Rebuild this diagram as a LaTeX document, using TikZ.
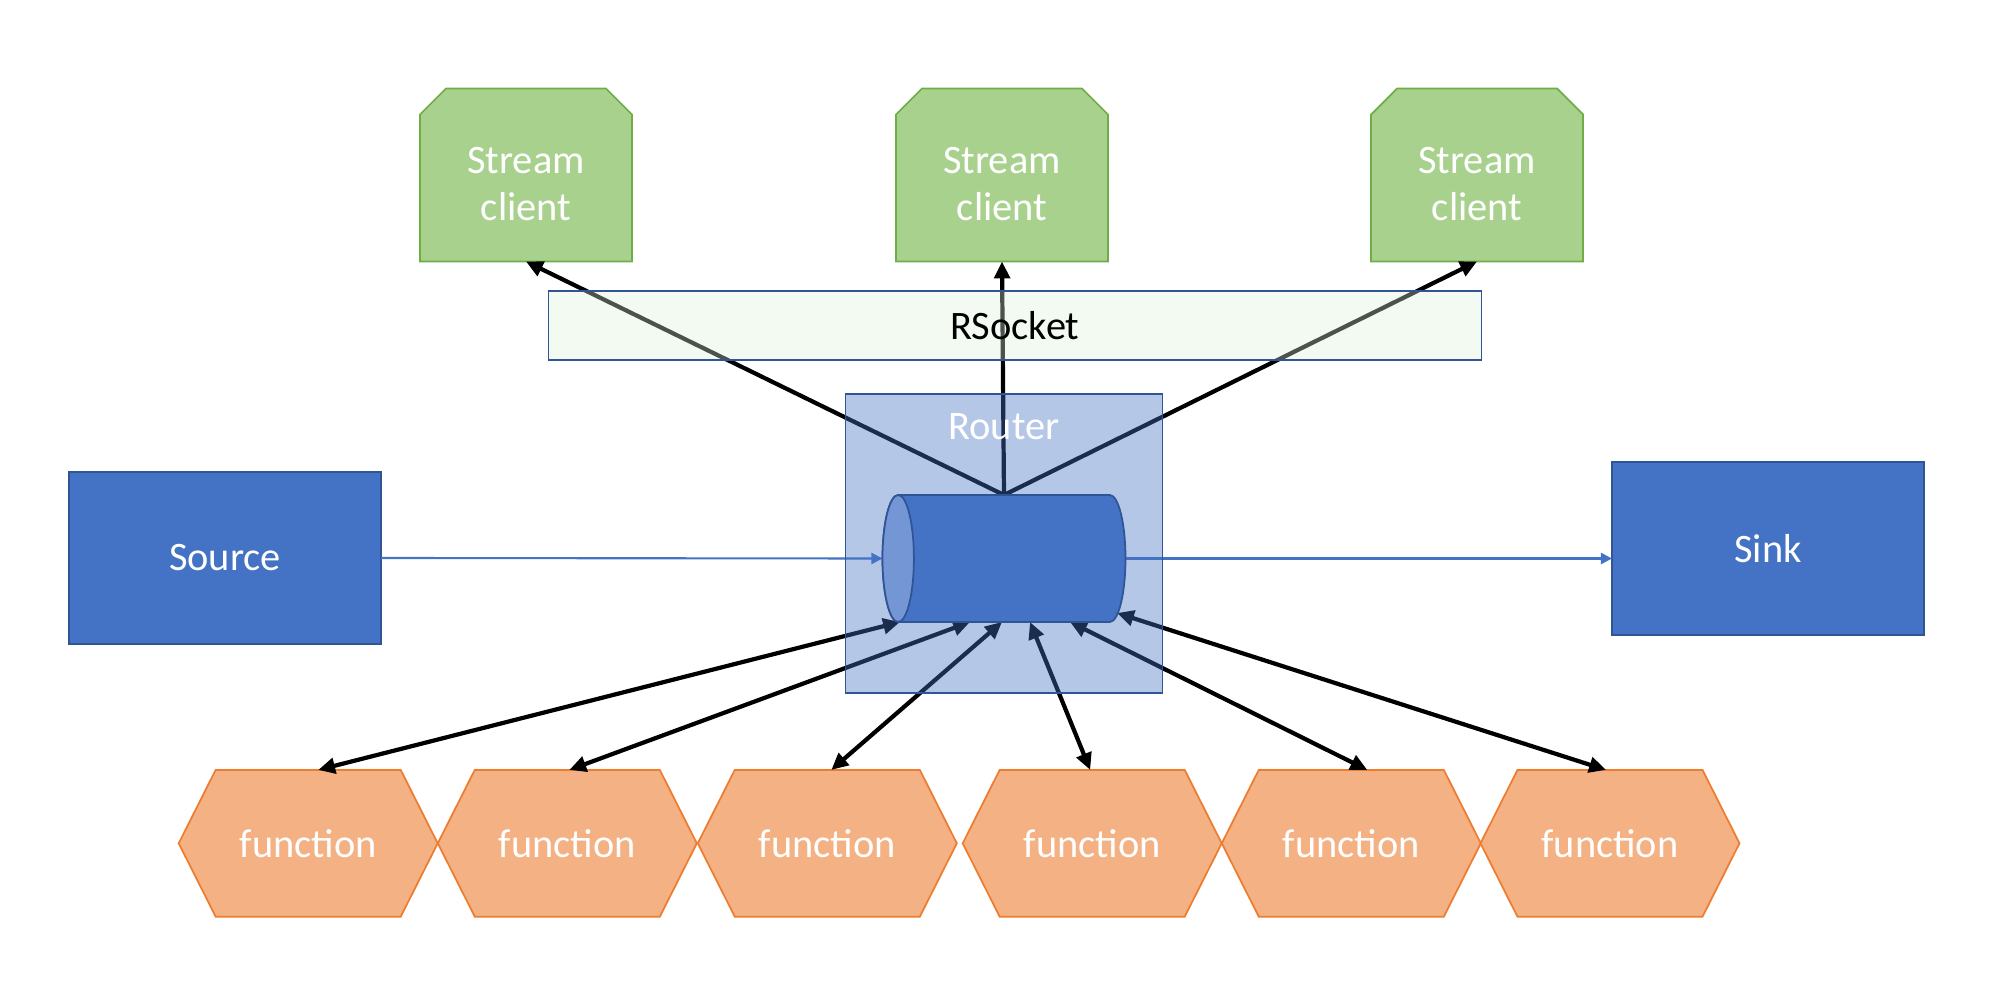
\documentclass[tikz,border=0pt]{standalone}
\usepackage{fontspec}
\setmainfont{Carlito}
\usetikzlibrary{shapes.misc,shapes.symbols,arrows.meta}
\definecolor{boxblue}{HTML}{4472C4}
\definecolor{edgeblue}{HTML}{2F5597}
\definecolor{faceblue}{HTML}{7496D4}
\definecolor{clientgreen}{HTML}{A9D18E}
\definecolor{clientedge}{HTML}{70AD47}
\definecolor{sockgreen}{HTML}{DDF0DA}
\definecolor{fnorange}{HTML}{F4B183}
\definecolor{fnedge}{HTML}{ED7D31}
\newcommand{\dropline}[1]{\raisebox{-0.09cm}[\height][\depth]{#1}}
\pgfdeclarelayer{front}
\pgfsetlayers{main,front}
\tikzset{
  every node/.style={font=\fontsize{11.5}{13.5}\selectfont, align=center, inner sep=0pt, outer sep=0pt},
  client/.style={chamfered rectangle, chamfered rectangle corners={north west,north east},
    chamfered rectangle xsep=0.13cm, chamfered rectangle ysep=0.13cm,
    minimum width=2.12cm, minimum height=1.73cm, fill=clientgreen, draw=clientedge, line width=0.5pt, text=white},
  fn/.style={signal, signal to=east and west, signal pointer angle=126.5,
    minimum width=2.59cm, minimum height=1.467cm, fill=fnorange, draw=fnedge, line width=0.5pt, text=white},
  endpoint/.style={rectangle, minimum width=3.12cm, minimum height=1.72cm, fill=boxblue, draw=edgeblue, line width=0.5pt, text=white},
  link/.style={line width=1.2pt, black},
  flow/.style={line width=0.6pt, boxblue, -{Triangle[length=3.2pt,width=3.2pt]}},
  pipeline/.style={draw=edgeblue, line width=0.5pt},
}
\begin{document}
\begin{tikzpicture}
\useasboundingbox (0,0) rectangle (20.02,9.95);
% overlays and the pipe go on top of the links
\begin{pgfonlayer}{front}
  \node[rectangle, minimum width=9.33cm, minimum height=0.69cm, fill=sockgreen, fill opacity=0.35, text opacity=1,
    draw=edgeblue, draw opacity=1, line width=0.5pt] (rsocket) at (10.15,6.695) {RSocket};
  \node[rectangle, minimum width=3.17cm, minimum height=2.99cm, fill=boxblue, fill opacity=0.4,
    draw=edgeblue, draw opacity=1, line width=0.5pt] (router) at (10.04,4.515) {};
  \node[text=white] (routerlabel) at (10.04,5.68) {Router};
  \node[rectangle, minimum width=2.43cm, minimum height=1.27cm] (pipe) at (10.04,4.365) {};
  \draw[pipeline, fill=boxblue] ([xshift=0.157cm]pipe.north west) -- ([xshift=-0.157cm]pipe.north east)
    arc[start angle=90, end angle=-90, x radius=0.157cm, y radius=0.635cm]
    -- ([xshift=0.157cm]pipe.south west)
    arc[start angle=270, end angle=90, x radius=0.157cm, y radius=0.635cm] -- cycle;
  \draw[pipeline, fill=faceblue] ([xshift=0.157cm]pipe.west) ellipse [x radius=0.157cm, y radius=0.635cm];
\end{pgfonlayer}
\coordinate (hub) at (pipe.north);
\coordinate (inlet) at (pipe.west);
\coordinate (outlet) at (pipe.east);

\foreach \i/\x in {1/5.26,2/10.02,3/14.77}
  \node[client] (c\i) at (\x,8.2) {\dropline{Stream}\\\dropline{client}};
\foreach \i/\x in {1/3.082,2/5.673,3/8.273,4/10.922,5/13.513,6/16.10}
  \node[fn] (f\i) at (\x,1.517) {function};
\node[endpoint] (source) at (2.25,4.37) {Source};
\node[endpoint, minimum height=1.73cm] (sink) at (17.68,4.465) {Sink};

\draw[flow] (source.east) -- (inlet);
\draw[flow] (outlet) -- (sink.west |- outlet);
\foreach \i in {1,2,3}
  \draw[link, -{Triangle[length=4.8pt,width=4.4pt]}] (hub) -- (c\i.south);
\foreach \i/\dx/\dy/\tx in {1/-1.04/-0.635/0.1, 2/-0.34/-0.635/0.02, 3/-0.02/-0.635/0.04,
    4/0.26/-0.635/-0.02, 5/0.66/-0.635/0.16, 6/1.13/-0.545/-0.04}
  \draw[link, {Triangle[length=4.8pt,width=4.4pt]}-{Triangle[length=4.8pt,width=4.4pt]}]
    ([shift={(\dx,\dy)}]pipe.center) -- ([xshift=\tx cm]f\i.north);
\end{tikzpicture}
\end{document}
